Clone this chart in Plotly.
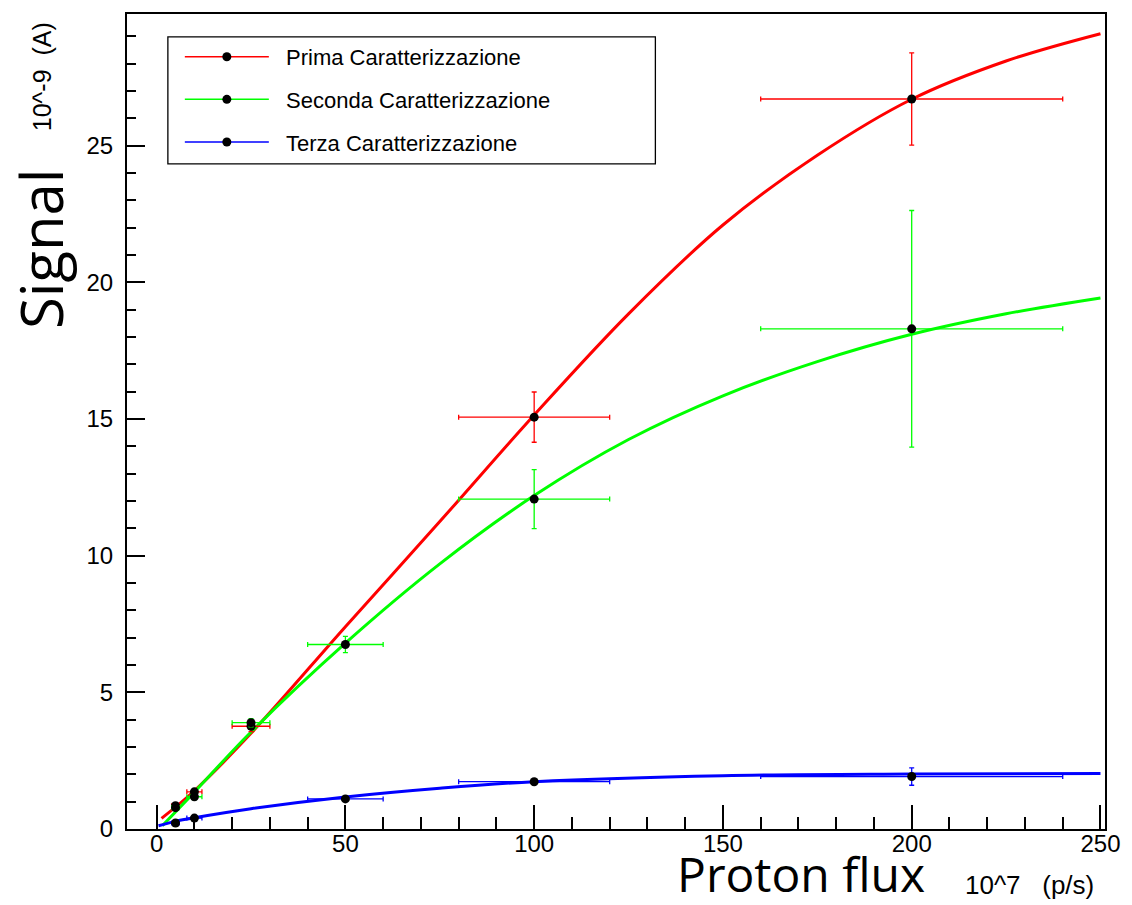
import plotly.graph_objects as go

# ---------------- data ----------------
series_names = ["Prima Caratterizzazione", "Seconda Caratterizzazione", "Terza Caratterizzazione"]
series_colors = ["#ff0000", "#00ff00", "#0000ff"]

prima_x = [5, 10, 25, 100, 200]
prima_y = [0.85, 1.36, 3.76, 15.07, 26.71]
prima_ex = [1, 2, 5, 20, 40]
prima_ey = [0.05, 0.1, 0.2, 0.92, 1.69]

seconda_x = [5, 10, 25, 50, 100, 200]
seconda_y = [0.78, 1.18, 3.89, 6.75, 12.07, 18.3]
seconda_ex = [1, 2, 5, 10, 20, 40]
seconda_ey = [0.05, 0.1, 0.15, 0.3, 1.08, 4.33]

terza_x = [5, 10, 50, 100, 200]
terza_y = [0.22, 0.40, 1.10, 1.73, 1.92]
terza_ex = [1, 2, 10, 20, 40]
terza_ey = [0.02, 0.04, 0.05, 0.08, 0.32]

# fitted curves, sampled by eye from the reference
prima_fit_x = [1.3, 10, 25, 50, 75, 100, 125, 150, 175, 200, 225, 250]
prima_fit_y = [0.39, 1.4, 3.5, 7.4, 11.25, 15.15, 18.85, 22.1, 24.65, 26.7, 28.1, 29.1]

seconda_fit_x = [1.5, 10, 25, 50, 75, 100, 125, 150, 175, 200, 225, 250]
seconda_fit_y = [0.12, 1.35, 3.55, 6.8, 9.7, 12.2, 14.25, 15.85, 17.1, 18.1, 18.85, 19.43]

terza_fit_x = [0.5, 5, 10, 25, 50, 75, 100, 150, 200, 250]
terza_fit_y = [0.12, 0.28, 0.41, 0.74, 1.17, 1.49, 1.73, 1.95, 2.01, 2.03]

x_tick_vals = [0, 50, 100, 150, 200, 250]
y_tick_vals = [0, 5, 10, 15, 20, 25]

points = [
    (prima_x, prima_y, prima_ex, prima_ey),
    (seconda_x, seconda_y, seconda_ex, seconda_ey),
    (terza_x, terza_y, terza_ex, terza_ey),
]
fits = [
    (prima_fit_x, prima_fit_y),
    (seconda_fit_x, seconda_fit_y),
    (terza_fit_x, terza_fit_y),
]

fig = go.Figure()

# fitted curves
for (fx, fy), col in zip(fits, series_colors):
    fig.add_trace(go.Scatter(
        x=fx, y=fy, mode="lines",
        line=dict(color=col, width=3, shape="spline", smoothing=1.0),
        showlegend=False, hoverinfo="skip",
    ))

# data points with error bars
for (px, py, ex, ey), col in zip(points, series_colors):
    fig.add_trace(go.Scatter(
        x=px, y=py, mode="markers",
        marker=dict(color="black", size=9),
        error_x=dict(type="data", array=ex, color=col, thickness=1.3, width=2.5),
        error_y=dict(type="data", array=ey, color=col, thickness=1.3, width=2.5),
        showlegend=False,
    ))

# legend entries (line + black marker, as in the original)
for i, (name, col) in enumerate(zip(series_names, series_colors)):
    fig.add_trace(go.Scatter(
        x=[None], y=[None], mode="lines+markers", name="\u00a0\u00a0" + name,
        line=dict(color=col, width=1.5),
        marker=dict(color="black", size=9),
        legendgroup="g%d" % i,
    ))

tick_font = dict(family="Liberation Sans, Arial, sans-serif", size=24, color="black")

fig.update_xaxes(
    range=[-7.85, 251.2], showgrid=False, zeroline=False,
    showline=True, linecolor="black", linewidth=2, mirror=True,
    ticks="inside", ticklen=24, tickwidth=1.5, tickcolor="black",
    tickvals=x_tick_vals, tickfont=tick_font, ticklabelstandoff=-8,
    minor=dict(dtick=10, tick0=0, ticks="inside", ticklen=12, tickwidth=1.5, tickcolor="black"),
)
fig.update_yaxes(
    range=[0, 29.82], showgrid=False, zeroline=False,
    showline=True, linecolor="black", linewidth=2, mirror=True,
    ticks="inside", ticklen=18, tickwidth=1.5, tickcolor="black",
    tickvals=y_tick_vals, tickfont=tick_font, ticklabelstandoff=7,
    minor=dict(dtick=1, tick0=0, ticks="inside", ticklen=9, tickwidth=1.5, tickcolor="black"),
)

L, R, T, B = 127, 24, 13, 76
W, H = 1132, 905
pw, ph = W - L - R, H - T - B

def px2x(p):
    return (p - L) / pw

def py2y(p):
    return (H - B - p) / ph

title_font_y = dict(family="Open Sans, Lato, sans-serif", size=58, color="black")
title_font_x = dict(family="Open Sans, Lato, sans-serif", size=48, color="black")
unit_font = dict(family="Liberation Sans, Arial, sans-serif", size=25, color="black")
unit_font_x = dict(family="Liberation Sans, Arial, sans-serif", size=26, color="black")

fig.add_annotation(text="Signal", xref="paper", yref="paper",
                   x=px2x(40), y=py2y(248), textangle=-90,
                   xanchor="center", yanchor="middle", showarrow=False, font=title_font_y)
fig.add_annotation(text="10^-9\u00a0\u00a0(A)", xref="paper", yref="paper",
                   x=px2x(42), y=py2y(76), textangle=-90,
                   xanchor="center", yanchor="middle", showarrow=False, font=unit_font)
fig.add_annotation(text="Proton flux", xref="paper", yref="paper",
                   x=px2x(803), y=py2y(874),
                   xanchor="center", yanchor="middle", showarrow=False, font=title_font_x)
fig.add_annotation(text="10^7\u00a0\u00a0\u00a0(p/s)", xref="paper", yref="paper",
                   x=px2x(1032), y=py2y(885),
                   xanchor="center", yanchor="middle", showarrow=False, font=unit_font_x)

# legend frame (ROOT-style box)
fig.add_shape(type="rect", xref="paper", yref="paper",
              x0=px2x(168), x1=px2x(657), y0=py2y(163), y1=py2y(36),
              line=dict(color="black", width=1.3), fillcolor="white", layer="below")

fig.update_layout(
    width=W, height=H,
    margin=dict(l=L, r=R, t=T, b=B),
    paper_bgcolor="white", plot_bgcolor="white",
    showlegend=True,
    legend=dict(
        x=px2x(180), y=py2y(35), xanchor="left", yanchor="top",
        bgcolor="rgba(0,0,0,0)", borderwidth=0,
        font=dict(family="Liberation Sans, Arial, sans-serif", size=22, color="black"),
        itemwidth=84, tracegroupgap=11,
    ),
)

fig.write_html("out.html")
